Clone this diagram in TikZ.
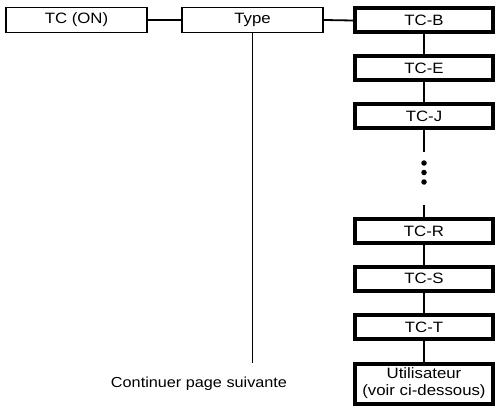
\documentclass[tikz,border=0pt]{standalone}
\usepackage{fontspec}
\setmainfont{Liberation Sans}[FakeStretch=1.12]
\begin{document}
\begin{tikzpicture}[x=1pt,y=-1pt,
  boxfont/.style={font=\fontsize{15}{17}\selectfont},
  thinbox/.style={draw,line width=1.6pt,minimum width=141pt,minimum height=25pt,inner sep=0pt,boxfont},
  thickbox/.style={draw,line width=4pt,minimum width=138pt,minimum height=24pt,inner sep=0pt,boxfont},
  conn/.style={line width=1.8pt},
  dotm/.style={circle,fill,inner sep=0pt,minimum size=5.5pt}]
\useasboundingbox (0,0) rectangle (497,406);
\node[thinbox] (on) at (76.5,20) {TC (ON)};
\node[thinbox] (type) at (252.5,20) {Type};
\node[thickbox] (b) at (424,20.5) {TC-B};
\node[thickbox] (e) at (424,68.5) {TC-E};
\node[thickbox] (j) at (424,116) {TC-J};
\node[thickbox] (r) at (424,231) {TC-R};
\node[thickbox] (s) at (424,278.5) {TC-S};
\node[thickbox] (t) at (424,327) {TC-T};
\node[thickbox,minimum height=40pt,align=center] (u) at (424,383.5) {Utilisateur\\(voir ci-dessous)};
\node[dotm] (d1) at (424,163) {};
\node[dotm] (d2) at (424,172.5) {};
\node[dotm] (d3) at (424,182) {};
\coordinate (jend) at (424,152);
\coordinate (rstart) at (424,205);
\coordinate (typeend) at (252.5,363);
\node[font=\fontsize{14.5}{16}\selectfont] (cont) at (199,384) {Continuer page suivante};
\draw[conn] (on.east) -- (type.west);
\draw[conn] (type.east) -- (b.west);
\draw[conn] (type.south) -- (typeend);
\draw[conn] (b.south) -- (e.north);
\draw[conn] (e.south) -- (j.north);
\draw[conn] (j.south) -- (jend);
\draw[conn] (rstart) -- (r.north);
\draw[conn] (r.south) -- (s.north);
\draw[conn] (s.south) -- (t.north);
\draw[conn] (t.south) -- (u.north);
\end{tikzpicture}
\end{document}
